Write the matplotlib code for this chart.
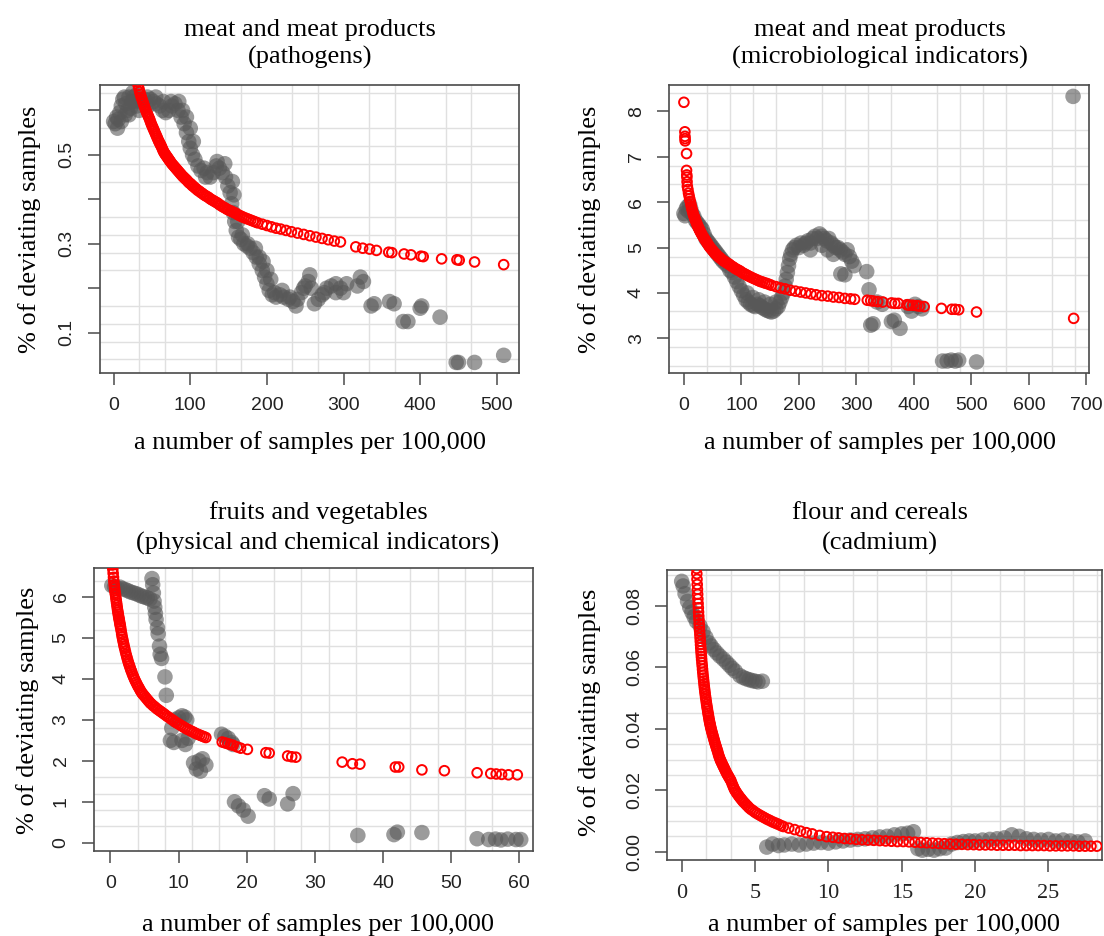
import matplotlib
matplotlib.use("Agg")
import matplotlib.pyplot as plt
from matplotlib.ticker import MultipleLocator, FixedLocator, FixedFormatter

# ---------------- data ----------------
titles_top = ["meat and meat products", "meat and meat products",
              "fruits and vegetables", "flour and cereals"]
titles_sub = ["(pathogens)", "(microbiological indicators)",
              "(physical and chemical indicators)", "(cadmium)"]
xlabel_txt = "a number of samples per 100,000"
ylabel_txt = "% of deviating samples"

# panel 1: meat (pathogens)
p1_gray_x = [0,2,4,6,8,10,12,14,16,18,20,22,24,26,28,30,33,36,40,44,48,52,56,60,64,68,72,76,80,84,88,
             92,95,98,100,103,106,110,114,118,122,126,130,134,138,142,146,149,152,154,156,158,160,163,166,
             170,174,178,182,186,190,194,197,200,203,207,212,217,222,228,234,240,245,250,254,258,262,267,
             272,278,284,290,296,300,304,318,322,326,336,340,360,366,378,384,400,402,426,447,450,471,509,
             5,10,15,20,25,30,35,45,55,65,75,85,90,95,100,104,120,135,145,155,157,162,168,175,185,190,195,
             200,205,210,220,230,238,248,256,275,290]
p1_gray_y = [0.575,0.57,0.585,0.58,0.595,0.61,0.625,0.63,0.615,0.60,0.59,0.605,0.62,0.63,0.62,0.61,
             0.60,0.62,0.625,0.63,0.625,0.62,0.615,0.61,0.60,0.595,0.60,0.61,0.615,0.60,0.585,
             0.57,0.55,0.53,0.515,0.50,0.49,0.475,0.465,0.47,0.46,0.45,0.46,0.475,0.47,0.46,0.45,
             0.43,0.415,0.39,0.37,0.35,0.33,0.315,0.31,0.30,0.295,0.29,0.28,0.27,0.255,0.24,
             0.225,0.21,0.195,0.185,0.18,0.185,0.18,0.175,0.17,0.175,0.19,0.205,0.215,0.20,0.165,
             0.175,0.185,0.20,0.205,0.21,0.20,0.19,0.21,0.205,0.225,0.215,0.16,0.165,0.17,0.165,
             0.125,0.125,0.155,0.16,0.135,0.033,0.033,0.033,0.049,
             0.56,0.575,0.59,0.63,0.64,0.635,0.625,0.61,0.63,0.62,0.62,0.62,0.60,0.585,0.56,0.53,
             0.45,0.485,0.48,0.44,0.41,0.35,0.32,0.30,0.29,0.27,0.26,0.24,0.22,0.19,0.195,0.18,
             0.16,0.20,0.23,0.19,0.19]
p1_red_x = [31,32,33,34,35,36,37,38,39,40,41,42,43,44,45,46,47,48,49,50,52,54,56,58,60,62,64,66,68,70,
            72,74,77,80,83,86,89,92,95,98,101,104,108,112,116,120,124,128,132,136,140,145,150,155,160,
            165,170,176,182,188,194,200,206,212,218,225,232,240,248,256,264,272,280,288,296,
            316,325,334,343,359,363,379,388,401,404,428,448,451,471,509,
            51,53,55,57,59,61,63,65,67,69,71,73,75.5,78.5,81.5,84.5,87.5,90.5,93.5,96.5,99.5,102.5,
            106,110,114,118,122,126,130,134,138,142.5,147.5,152.5,157.5,162.5,167.5,173,179,185]
p1_red_y = [0.665,0.656,0.649,0.642,0.636,0.63,0.625,0.62,0.615,0.61,0.605,0.60,0.596,0.592,0.588,
            0.584,0.58,0.575,0.57,0.566,0.558,0.55,0.542,0.534,0.527,0.52,0.512,0.505,0.50,0.495,
            0.49,0.485,0.478,0.472,0.466,0.46,0.454,0.449,0.444,0.438,0.434,0.429,0.423,0.418,0.413,
            0.408,0.404,0.399,0.395,0.391,0.386,0.381,0.376,0.372,0.368,0.363,0.359,0.355,0.351,
            0.347,0.344,0.341,0.338,0.335,0.333,0.33,0.327,0.324,0.321,0.318,0.315,0.312,0.309,
            0.306,0.304,
            0.293,0.29,0.288,0.285,0.281,0.28,0.277,0.275,0.272,0.271,0.266,0.264,0.263,0.259,0.253,
            0.562,0.554,0.546,0.538,0.530,0.523,0.516,0.508,0.502,0.497,0.492,0.487,0.481,0.475,
            0.469,0.463,0.457,0.451,0.446,0.441,0.436,0.431,0.426,0.420,0.415,0.410,0.406,0.401,
            0.397,0.393,0.388,0.383,0.378,0.374,0.370,0.365,0.361,0.357,0.353,0.349]

# panel 2: meat (microbiological indicators)
p2_gray_x = [0,2,4,6,8,10,12,14,17,20,23,26,29,32,35,38,41,44,47,50,53,56,59,62,65,68,
             72,76,80,84,88,92,96,100,104,108,112,116,120,124,128,132,136,140,144,148,152,156,160,164,
             167,170,173,176,178,180,182,184,186,189,192,196,
             200,204,208,212,216,220,224,228,232,236,240,244,248,252,256,260,264,268,272,276,280,284,
             288,292,296,
             273,280,318,322,325,329,336,345,361,366,376,390,396,402,408,414,
             450,458,465,472,478,509,677,
             110,120,130,140,150,160,220,240,250,260]
p2_gray_y = [5.75,5.7,5.85,5.9,5.8,5.95,5.85,5.75,5.7,5.6,5.55,5.5,5.45,5.4,5.3,5.2,5.15,5.1,5.05,
             5.0,4.95,4.9,4.85,4.8,4.75,4.7,
             4.65,4.6,4.5,4.45,4.35,4.25,4.15,4.05,3.95,3.85,3.8,3.75,3.72,3.7,3.75,3.72,3.68,3.65,
             3.62,3.6,3.58,3.6,3.65,3.7,
             3.8,3.9,4.0,4.15,4.3,4.45,4.6,4.75,4.85,4.95,5.0,5.05,
             5.0,5.1,5.05,5.1,5.15,5.1,5.2,5.25,5.2,5.3,5.25,5.2,5.15,5.2,5.1,5.05,5.0,5.0,4.95,4.9,
             4.85,4.95,4.8,4.7,4.6,
             4.42,4.4,4.47,4.07,3.29,3.32,3.8,3.75,3.37,3.4,3.22,3.7,3.6,3.75,3.7,3.65,
             2.5,2.5,2.52,2.5,2.52,2.48,8.33,
             4.0,3.9,3.85,3.8,3.75,3.8,4.95,5.05,4.95,4.85]
p2_red_x = [0,1.7,1.8,2,2.2,4.6,4.6,5,5.2,5.5,6,7,8,9,10,11,12,13,14,15,16,18,20,22,24,26,28,30,
            33,36,39,42,45,49,53,57,61,65,70,75,80,86,92,98,104,110,116,123,130,137,144,152,160,168,
            176,185,194,203,212,221,230,240,250,260,270,280,290,297,
            319,325,330,337,346,361,367,373,388,392,398,405,410,418,448,466,472,478,509,678,
            17,19,21,23,25,27,29,31.5,34.5,37.5,40.5,43.5,47,51,55,59,63,67.5,72.5,77.5,83,89,95,
            101,107,113,119.5,126.5,133.5,140.5,148]
p2_red_y = [8.2,7.55,7.45,7.4,7.35,7.07,6.7,6.6,6.55,6.45,6.35,6.28,6.2,6.14,6.08,6.02,5.96,5.9,
            5.85,5.8,5.75,5.68,5.61,5.54,5.48,5.42,5.37,5.32,5.25,5.19,5.13,5.07,5.01,4.95,4.89,
            4.84,4.79,4.75,4.7,4.66,4.62,4.57,4.52,4.48,4.43,4.39,4.35,4.31,4.27,4.24,4.21,4.17,
            4.14,4.11,4.09,4.06,4.04,4.02,4.0,3.98,3.96,3.94,3.93,3.91,3.9,3.88,3.87,3.86,
            3.84,3.83,3.82,3.81,3.8,3.78,3.77,3.77,3.74,3.73,3.73,3.72,3.71,3.7,3.66,3.64,3.64,
            3.63,3.58,3.44,
            5.71,5.64,5.57,5.51,5.45,5.39,5.34,5.28,5.22,5.16,5.10,5.04,4.98,4.92,4.86,4.81,4.77,
            4.72,4.68,4.64,4.59,4.54,4.50,4.45,4.41,4.37,4.33,4.29,4.25,4.22,4.19]

# panel 3: fruits and vegetables
p3_gray_x = [0.2,0.6,1.0,1.4,1.8,2.2,2.6,3.0,3.4,3.8,4.2,4.6,5.0,5.4,5.8,6.1,6.2,6.3,6.4,6.5,6.6,
             6.7,6.9,7.0,7.2,7.3,7.5,8.0,8.2,9.5,10.0,10.5,10.9,11.2,9.0,8.8,9.3,10.5,11.0,11.4,
             12.2,12.6,13.0,13.5,14.0,13.2,16.3,16.8,17.3,17.8,18.0,18.2,18.8,19.5,20.2,22.6,23.3,
             26.0,26.8,36.3,41.6,42.1,45.7,53.8,55.5,56.5,57.3,58.3,59.5,60.2]
p3_gray_y = [6.28,6.25,6.22,6.24,6.2,6.18,6.15,6.12,6.1,6.08,6.05,6.02,6.0,5.98,5.95,6.45,6.3,6.1,
             5.9,5.75,5.6,5.45,5.25,5.1,4.8,4.6,4.5,4.05,3.6,3.0,3.05,3.1,3.07,3.0,2.8,2.5,2.45,
             2.5,2.4,2.55,1.95,1.8,2.0,2.05,1.9,1.75,2.65,2.6,2.55,2.45,2.4,1.0,0.9,0.8,0.65,1.15,
             1.07,0.95,1.2,0.18,0.2,0.26,0.25,0.1,0.08,0.09,0.07,0.09,0.08,0.08]
p3_red_x = [0.25,0.3,0.35,0.4,0.45,0.5,0.55,0.6,0.65,0.7,0.75,0.8,0.9,1.0,1.1,1.2,1.3,1.4,1.5,1.65,
            1.8,1.95,2.1,2.3,2.5,2.7,2.9,3.1,3.35,3.6,3.9,4.2,4.5,4.8,5.2,5.6,6.0,6.5,7.0,7.5,8.0,
            8.6,9.2,9.8,10.4,11.0,11.6,12.2,12.8,13.4,14.0,16.4,16.8,17.2,17.6,18.0,18.6,19.1,20.1,
            22.8,23.3,26.0,26.6,27.2,34.0,35.5,36.6,41.8,42.3,45.7,49.0,53.8,55.8,56.6,57.4,58.4,59.7,
            0.85,0.95,1.05,1.15,1.25,1.35,1.45,1.57,1.72,1.87,2.02,2.2,2.4,2.6,2.8,3.0,3.22,3.47,
            3.75,4.05,4.35,4.65,5.0,5.4,5.8,6.25,6.75,7.25,7.75,8.3,8.9,9.5,10.1,10.7,11.3,11.9,
            12.5,13.1,13.7]
p3_red_y = [6.88,6.78,6.68,6.58,6.48,6.39,6.3,6.23,6.16,6.1,6.05,5.98,5.86,5.74,5.63,5.53,5.44,
            5.34,5.25,5.1,4.97,4.85,4.74,4.6,4.48,4.37,4.27,4.18,4.07,3.97,3.87,3.78,3.69,3.62,
            3.54,3.46,3.39,3.32,3.25,3.19,3.13,3.06,2.99,2.92,2.86,2.8,2.75,2.7,2.65,2.61,2.57,
            2.46,2.44,2.42,2.4,2.38,2.34,2.31,2.28,2.2,2.19,2.12,2.1,2.09,1.97,1.93,1.92,1.85,
            1.85,1.78,1.76,1.71,1.69,1.68,1.67,1.66,1.66,
            5.92,5.80,5.68,5.58,5.48,5.39,5.30,5.18,5.03,4.91,4.79,4.67,4.54,4.42,4.32,4.22,4.12,
            4.02,3.92,3.82,3.73,3.65,3.58,3.50,3.42,3.35,3.28,3.22,3.16,3.09,3.02,2.95,2.89,2.83,
            2.77,2.72,2.67,2.63,2.59]

# panel 4: flour and cereals (cadmium)
p4_gray_x = [0.0,0.1,0.23,0.4,0.55,0.7,0.85,1.0,1.25,1.45,1.65,1.85,2.0,2.2,2.4,2.6,2.84,3.05,3.25,
             3.45,3.65,3.97,4.2,4.4,4.6,4.8,5.0,5.2,5.5,
             5.8,6.2,6.6,7.0,7.5,8.0,8.5,9.0,9.5,10.0,10.5,11.0,11.5,12.0,12.5,13.0,13.5,14.0,14.5,
             15.0,15.4,15.8,16.1,16.4,16.8,17.2,17.6,18.0,18.4,18.8,19.2,19.6,20.0,20.5,21.0,21.5,
             22.0,22.5,23.0,23.5,24.0,24.5,25.0,25.5,26.0,26.5,27.0,27.5]
p4_gray_y = [0.088,0.0865,0.084,0.0815,0.0795,0.078,0.0765,0.075,0.0735,0.0717,0.0698,0.068,0.067,
             0.0658,0.0647,0.0637,0.0627,0.0617,0.0607,0.0597,0.0588,0.0573,0.0567,0.0563,0.056,
             0.0557,0.0555,0.0553,0.0555,
             0.0015,0.0025,0.002,0.0022,0.0025,0.0022,0.0025,0.0028,0.003,0.0028,0.0032,0.0035,
             0.0038,0.004,0.0042,0.0045,0.0048,0.005,0.0055,0.0058,0.006,0.0065,0.001,0.0005,
             0.0008,0.0005,0.001,0.0012,0.0025,0.003,0.0033,0.0035,0.0035,0.0038,0.004,0.0042,
             0.0045,0.0055,0.005,0.0042,0.004,0.0038,0.004,0.0035,0.0038,0.0035,0.0032,0.0035]
p4_red_x = [1.00,1.03,1.06,1.09,1.12,1.15,1.18,1.21,1.24,1.27,1.30,1.33,1.36,1.40,1.44,1.48,1.52,
            1.56,1.60,1.65,1.70,1.75,1.80,1.85,1.90,1.95,2.00,2.07,2.14,2.21,2.28,2.36,2.44,2.52,
            2.61,2.70,2.80,2.90,3.00,3.12,3.24,3.36,3.50,3.62,3.75,3.90,4.05,4.20,4.40,4.60,4.85,
            5.11,5.40,5.70,6.00,6.30,6.60,6.93,7.3,7.7,8.1,8.5,8.9,9.4,9.88,10.3,10.7,11.1,11.5,
            11.9,12.3,12.7,13.1,13.5,13.9,14.3,14.7,15.1,15.5,15.9,16.3,16.7,17.1,17.5,17.9,18.3,
            18.7,19.1,19.5,19.9,20.3,20.7,21.1,21.5,21.9,22.3,22.7,23.1,23.5,23.9,24.3,24.7,25.1,
            25.5,25.9,26.3,26.7,27.1,27.5,27.9,28.3,
            1.015,1.045,1.075,1.105,1.135,1.165,1.195,1.225,1.255,1.285,1.315,1.345,1.38,1.42,
            1.46,1.50,1.54,1.58,1.625,1.675,1.725,1.775,1.825,1.875,1.925,1.975,2.035,2.105,
            2.175,2.245,2.32,2.40,2.48,2.565,2.655,2.75,2.85,2.95,3.06,3.18,3.30,3.43,3.56,3.69,
            3.83,3.98,4.13,4.30,4.50,4.72,4.98,5.25,5.55,5.85,6.15,6.45,6.77]
p4_red_y = [0.094,0.0905,0.087,0.0838,0.0808,0.078,0.0755,0.073,0.0707,0.0685,0.0664,0.0645,0.0626,
            0.0605,0.0584,0.0565,0.0547,0.053,0.0514,0.0497,0.048,0.0465,0.045,0.0436,0.0423,
            0.0412,0.0401,0.0388,0.0376,0.0364,0.0352,0.034,0.0328,0.0314,0.0302,0.0292,0.0282,
            0.0272,0.0262,0.0251,0.0241,0.0231,0.0214,0.0201,0.0191,0.0181,0.0172,0.0163,0.0153,
            0.0143,0.0134,0.0125,0.0117,0.0109,0.0102,0.0095,0.0089,0.0082,0.0077,0.0072,0.0067,
            0.0062,0.0058,0.0053,0.0049,0.0047,0.0045,0.0043,0.0042,0.004,0.0039,0.0038,0.0037,
            0.0036,0.0035,0.0034,0.0033,0.0033,0.0032,0.0031,0.003,0.0029,0.0028,0.0027,0.0026,
            0.0025,0.0024,0.0024,0.0023,0.0023,0.0022,0.0022,0.0022,0.0021,0.0021,0.0021,0.0021,
            0.002,0.002,0.002,0.002,0.002,0.0019,0.0019,0.0019,0.0019,0.0019,0.0018,0.0018,0.0018,
            0.0018,
            0.0922,0.0887,0.0854,0.0823,0.0794,0.0767,0.0742,0.0718,0.0696,0.0674,0.0654,0.0635,
            0.0615,0.0594,0.0574,0.0556,0.0538,0.0522,0.0505,0.0488,0.0472,0.0457,0.0443,0.0429,
            0.0417,0.0406,0.0394,0.0382,0.037,0.0358,0.0346,0.0334,0.0321,0.0308,0.0297,0.0287,
            0.0277,0.0267,0.0256,0.0246,0.0236,0.0222,0.0207,0.0196,0.0186,0.0176,0.0167,0.0158,
            0.0148,0.0138,0.0129,0.0121,0.0113,0.0105,0.0098,0.0092,0.0085]

p1_yticks = [0.1, 0.2, 0.3, 0.4, 0.5, 0.6]
p1_yticklabels = ["0.1", "", "0.3", "", "0.5", ""]
p2_yticks = [3, 4, 5, 6, 7, 8]
p3_yticks = [0, 1, 2, 3, 4, 5, 6]
p4_yticks = [0.0, 0.02, 0.04, 0.06, 0.08]
p4_yticklabels = ["0.00", "0.02", "0.04", "0.06", "0.08"]
p1_xticks = [0, 100, 200, 300, 400, 500]
p2_xticks = [0, 100, 200, 300, 400, 500, 600, 700]
p3_xticks = [0, 10, 20, 30, 40, 50, 60]
p4_xticks = [0, 5, 10, 15, 20, 25]

# ---------------- drawing ----------------
W, H = 1104, 936
fig = plt.figure(figsize=(W / 100, H / 100), dpi=100)
SERIF = "Liberation Serif"
SANS = "Liberation Sans"
AXCOL = "#4a4a4a"
GRIDCOL = "#e0e0e0"


def px_axes(l, r, t, b):
    return fig.add_axes([l / W, 1 - b / H, (r - l) / W, (b - t) / H])


def ftext(x, y, s, **kw):
    fig.text(x / W, 1 - y / H, s, **kw)


panels = [
    dict(box=(100, 519, 85.5, 372.7), xlim=(-17.8, 529), ylim=(0.0099, 0.656),
         gx=p1_gray_x, gy=p1_gray_y, rx=p1_red_x, ry=p1_red_y,
         xt=p1_xticks, yt=p1_yticks, ytl=p1_yticklabels, gridx=100 / 3, gridy=0.04,
         t1=(310, 30), t2=(310, 57), xl=(310, 443), yl=(30, 229), xser=False),
    dict(box=(669.3, 1089, 85.5, 372.7), xlim=(-25.4, 704.7), ylim=(2.243, 8.57),
         gx=p2_gray_x, gy=p2_gray_y, rx=p2_red_x, ry=p2_red_y,
         xt=p2_xticks, yt=p2_yticks, ytl=None, gridx=40, gridy=0.4,
         t1=(880, 30), t2=(880, 57), xl=(880, 443), yl=(590, 229), xser=False),
    dict(box=(94, 533, 567.5, 851), xlim=(-2.41, 62.0), ylim=(-0.2, 6.72),
         gx=p3_gray_x, gy=p3_gray_y, rx=p3_red_x, ry=p3_red_y,
         xt=p3_xticks, yt=p3_yticks, ytl=None, gridx=4, gridy=0.4,
         t1=(318, 513), t2=(318, 543), xl=(318, 925), yl=(28, 710), xser=False),
    dict(box=(667.3, 1101.7, 570, 860), xlim=(-0.98, 28.63), ylim=(-0.0027, 0.0917),
         gx=p4_gray_x, gy=p4_gray_y, rx=p4_red_x, ry=p4_red_y,
         xt=p4_xticks, yt=p4_yticks, ytl=p4_yticklabels, gridx=5 / 3, gridy=0.005,
         t1=(880, 513), t2=(880, 543), xl=(884, 925), yl=(590, 712), xser=True),
]

for i, p in enumerate(panels):
    ax = px_axes(*p["box"])
    ax.set_xlim(*p["xlim"])
    ax.set_ylim(*p["ylim"])
    ax.set_axisbelow(True)
    ax.xaxis.set_minor_locator(MultipleLocator(p["gridx"]))
    ax.yaxis.set_minor_locator(MultipleLocator(p["gridy"]))
    ax.grid(which="minor", color=GRIDCOL, linewidth=1.0)
    ax.tick_params(which="minor", length=0)

    ax.scatter(p["gx"], p["gy"], s=125, color="#585858", alpha=0.6,
               edgecolors="none", zorder=2)
    ax.scatter(p["rx"], p["ry"], s=48, facecolors="none", edgecolors="#ff0000",
               linewidths=1.4, zorder=3)

    ax.xaxis.set_major_locator(FixedLocator(p["xt"]))
    ax.xaxis.set_major_formatter(FixedFormatter([str(v) for v in p["xt"]]))
    ax.yaxis.set_major_locator(FixedLocator(p["yt"]))
    ytl = p["ytl"] if p["ytl"] is not None else [str(v) for v in p["yt"]]
    ax.yaxis.set_major_formatter(FixedFormatter(ytl))

    for sp in ax.spines.values():
        sp.set_color(AXCOL)
        sp.set_linewidth(1.2)
    ax.tick_params(which="major", direction="out", length=8.5, width=1.1,
                   color=AXCOL, labelcolor="#222222", pad=9)
    ax.tick_params(axis="y", labelrotation=90)
    for lb in ax.get_yticklabels():
        lb.set_fontfamily(SANS)
        lb.set_fontsize(14)
        lb.set_va("center")
    for lb in ax.get_xticklabels():
        if p["xser"]:
            lb.set_fontfamily(SERIF)
            lb.set_fontsize(16)
        else:
            lb.set_fontfamily(SANS)
            lb.set_fontsize(14)

    ftext(*p["t1"], titles_top[i], ha="center", va="center", fontsize=19, family=SERIF)
    ftext(*p["t2"], titles_sub[i], ha="center", va="center", fontsize=19, family=SERIF)
    ftext(*p["xl"], xlabel_txt, ha="center", va="center", fontsize=19, family=SERIF)
    ftext(*p["yl"], ylabel_txt, ha="center", va="center", fontsize=19, family=SERIF,
          rotation=90)

fig.savefig("out.png", dpi=100, facecolor="white")
